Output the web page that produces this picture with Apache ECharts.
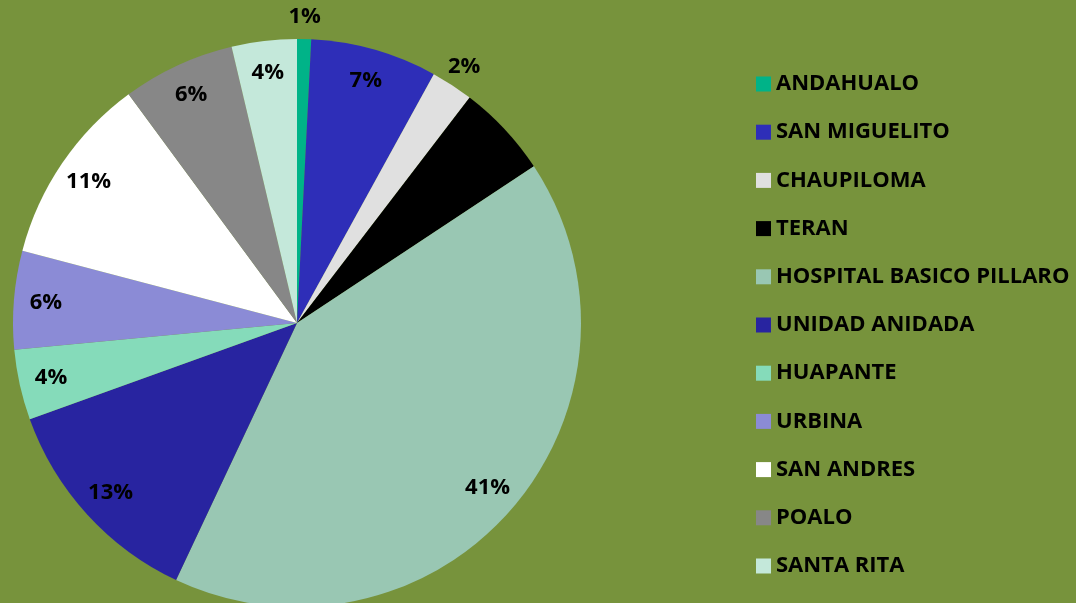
<!DOCTYPE html>
<html>
<head>
<meta charset="utf-8">
<script src="https://cdn.jsdelivr.net/npm/echarts@6/dist/echarts.min.js"></script>
<style>
  html, body { margin: 0; padding: 0; background: #77933C; }
  #chart { width: 1076px; height: 603px; }
</style>
</head>
<body>
<div id="chart"></div>
<script>
// datos (porcentaje aprox. de cada centro)
var names = ['ANDAHUALO', 'SAN MIGUELITO', 'CHAUPILOMA', 'TERAN', 'HOSPITAL BASICO PILLARO',
  'UNIDAD ANIDADA', 'HUAPANTE', 'URBINA', 'SAN ANDRES', 'POALO', 'SANTA RITA']
var values = [0.8, 7.2, 2.4, 5.3, 41.3, 12.5, 4.0, 5.6, 10.8, 6.4, 3.7]
var colors = ['#00B388', '#2E2EB8', '#E0E0E0', '#000000', '#99C7B3',
  '#2824A0', '#85DBBA', '#8B8BD6', '#FFFFFF', '#878787', '#C4E8DA']
// etiquetas que van fuera del pastel
var outsideLabels = ['ANDAHUALO', 'CHAUPILOMA']

var chart = echarts.init(document.getElementById('chart'))
var font = '"Open Sans", sans-serif'
var pct = function (p) { return Math.round(p.percent) + '%' }

// serie principal (sin etiquetas)
var mainData = names.map(function (n, i) {
  return { name: n, value: values[i], itemStyle: { color: colors[i] } }
})
// series transparentes solo para colocar las etiquetas
var innerData = names.map(function (n, i) {
  return { name: n, value: values[i], label: { show: outsideLabels.indexOf(n) < 0 } }
})
var outerData = names.map(function (n, i) {
  return { name: n, value: values[i], label: { show: outsideLabels.indexOf(n) >= 0 } }
})
var labelStyle = {
  position: 'inside',
  formatter: pct,
  color: '#000',
  fontFamily: font,
  fontWeight: 'bold',
  fontSize: 22
}

var option = {
  backgroundColor: '#77933C',
  animation: false,
  legend: {
    orient: 'vertical',
    left: 756,
    top: 72,
    padding: 0,
    icon: 'rect',
    itemWidth: 15,
    itemHeight: 15,
    itemGap: 24.2,
    data: names,
    selectedMode: false,
    textStyle: {
      color: '#000',
      fontFamily: font,
      fontWeight: 'bold',
      fontSize: 22,
      lineHeight: 24
    }
  },
  series: [
    {
      type: 'pie',
      center: [297, 323],
      radius: [0, 284],
      startAngle: 90,
      clockwise: true,
      silent: true,
      label: { show: false },
      labelLine: { show: false },
      itemStyle: { borderWidth: 0 },
      data: mainData
    },
    {
      type: 'pie',
      center: [297, 323],
      radius: [214, 284],
      startAngle: 90,
      silent: true,
      itemStyle: { color: 'rgba(0,0,0,0)', borderWidth: 0 },
      label: labelStyle,
      labelLine: { show: false },
      data: innerData
    },
    {
      type: 'pie',
      center: [297, 323],
      radius: [284, 322],
      startAngle: 90,
      silent: true,
      itemStyle: { color: 'rgba(0,0,0,0)', borderWidth: 0 },
      label: labelStyle,
      labelLine: { show: false },
      data: outerData
    }
  ]
}
chart.setOption(option)
</script>
</body>
</html>
